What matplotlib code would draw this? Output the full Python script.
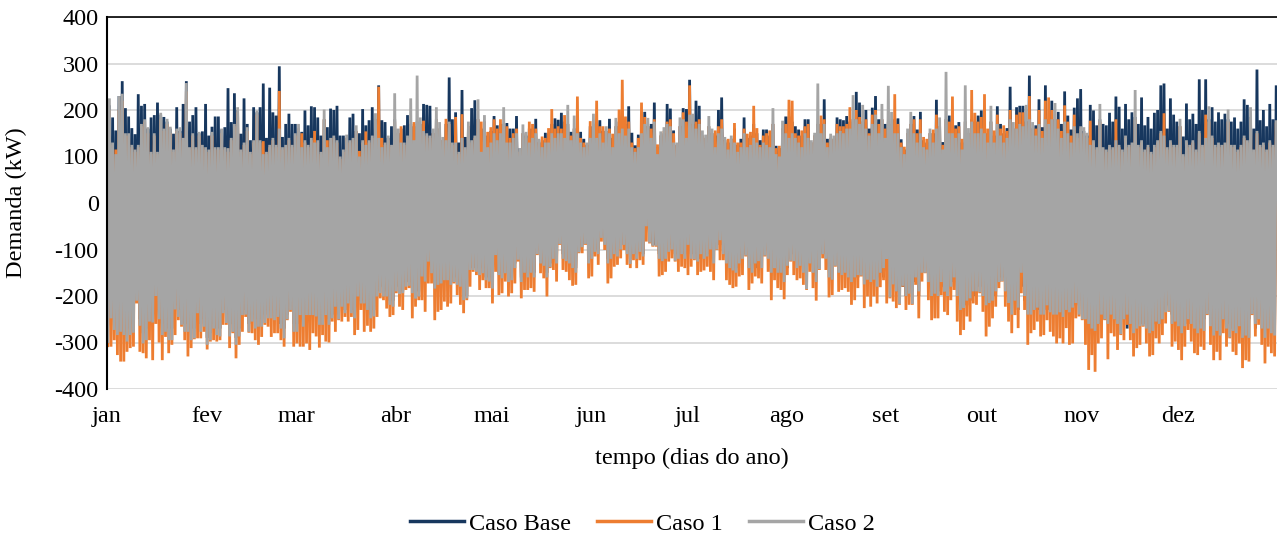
import numpy as np
import matplotlib
matplotlib.use("Agg")
import matplotlib.pyplot as plt

plt.rcParams['font.family'] = ['Liberation Serif', 'DejaVu Serif']
plt.rcParams['axes.unicode_minus'] = False

# daily maximum / minimum demand (kW), one value per day
base_max = [
    210,184,156,230,262,204,186,161,148,234,209,213,160,184,189,216,190,185,175,160,
    149,206,155,213,262,175,189,206,150,154,213,145,164,186,186,158,163,247,174,236,
    200,149,225,170,135,206,195,206,257,140,248,195,188,294,142,170,192,170,170,
    160,153,199,167,208,206,184,145,180,163,203,200,209,145,145,140,184,192,155,150,
    202,167,178,206,180,253,178,174,140,165,180,150,160,167,189,170,165,175,170,213,
    211,209,150,180,160,135,170,270,180,195,130,243,142,165,204,221,180,160,175,145,155,
    187,167,170,170,172,160,160,187,117,150,145,160,160,181,130,135,151,150,170,182,
    179,194,175,170,153,160,170,153,138,125,165,170,175,178,155,155,181,140,165,175,
    180,170,208,151,124,147,170,196,165,170,216,120,145,150,213,203,156,125,165,204,
    202,265,170,220,209,145,140,165,150,145,200,227,135,130,138,160,125,138,184,140,
    145,170,150,135,158,158,145,170,123,118,160,186,186,175,165,158,145,180,180,130,
    145,170,170,223,138,140,138,184,180,178,187,175,180,239,216,175,200,160,205,230,180,
    180,170,175,170,180,182,137,115,150,170,187,158,196,135,130,150,150,222,165,131,
    180,188,175,167,174,130,175,150,180,175,188,199,175,150,175,145,208,170,150,161,
    250,160,206,209,209,175,274,160,167,223,163,253,180,220,180,196,170,240,188,158,205,
    225,245,155,145,211,199,167,180,170,167,194,175,229,207,160,213,180,195,185,170,
    227,167,185,160,194,200,253,257,160,225,190,175,165,143,214,180,192,170,266,200,
    266,180,206,175,195,180,192,180,175,184,160,175,223,211,185,160,287,178,200,165,
    213,180,250,
]
base_min = [
    -260,-230,-250,-260,-260,-260,-270,-260,-260,-200,-250,-280,-270,-240,-240,-190,
    -230,-260,-260,-270,-270,-220,-230,-250,-260,-260,-270,-270,-220,-260,-250,
    -290,-280,-260,-270,-270,-230,-240,-270,-260,-290,-270,-230,-230,-260,-240,-250,
    -250,-250,-240,-230,-230,-240,-230,-260,-270,-240,-220,-260,
    -260,-230,-250,-230,-230,-230,-230,-250,-250,-230,-250,-240,-210,-240,-210,-230,
    -210,-230,-240,-190,-210,-210,-220,-240,-230,-190,-180,-190,-190,-210,-210,
    -180,-190,-190,-170,-170,-180,-190,-190,-150,-160,-120,-140,-170,-170,-160,-160,
    -160,-170,-160,-170,-170,-200,-200,-140,-140,-140,-150,-140,-160,-160,
    -170,-110,-150,-150,-140,-160,-160,-130,-110,-160,-140,-150,-140,-150,-100,-120,
    -130,-150,-130,-110,-120,-80,-110,-120,-120,-130,-140,-100,-90,-80,-120,
    -110,-100,-100,-70,-80,-120,-110,-100,-110,-80,-90,-100,-120,-100,-110,-100,
    -110,-40,-80,-90,-90,-110,-120,-110,-100,-90,-110,-110,-100,-110,
    -80,-110,-110,-110,-120,-100,-110,-100,-90,-90,-90,-70,-100,-120,-130,-140,
    -120,-120,-110,-100,-130,-140,-120,-110,-100,-100,-110,-130,-130,-130,-130,
    -140,-120,-110,-110,-120,-130,-140,-130,-120,-140,-130,-110,-110,-130,-130,-130,
    -150,-130,-140,-140,-140,-150,-160,-150,-140,-140,-160,-150,-160,-150,-160,
    -140,-130,-110,-190,-160,-180,-200,-170,-190,-170,-200,-150,-140,-140,-140,-160,
    -190,-180,-190,-160,-180,-170,-170,-150,-190,-220,-210,-200,-190,-180,
    -180,-180,-190,-200,-200,-170,-160,-160,-160,-180,-200,-230,-180,-210,-140,-190,
    -230,-230,-220,-210,-230,-230,-210,-220,-230,-230,-220,-230,-220,-220,-210,
    -200,-230,-240,-240,-250,-260,-260,-250,-230,-240,-250,-230,-240,-250,-270,-240,
    -230,-250,-260,-260,-250,-240,-250,-260,-260,-250,-230,-220,-240,-220,
    -220,-250,-250,-260,-240,-230,-250,-260,-250,-230,-270,-260,-270,-230,-250,-270,
    -260,-270,-240,-260,-260,-270,-250,-230,-270,-250,-230,-250,-240,-260,-270,
]
c1_max = [
    200,125,115,200,220,145,145,120,110,120,165,175,150,105,145,105,180,155,170,150,
    110,155,150,135,240,115,145,115,145,120,115,110,145,115,115,150,115,110,135,165,
    195,110,125,155,105,130,190,130,133,105,120,135,120,241,115,120,135,120,145,
    160,150,130,120,135,155,130,105,180,135,135,140,130,95,110,140,130,135,155,112,
    130,154,130,140,180,250,140,125,135,120,175,150,165,125,140,170,174,170,170,177,
    145,140,150,180,160,135,181,170,125,185,105,191,115,165,130,140,180,175,175,153,163,
    180,160,180,170,165,140,150,160,110,150,140,175,170,160,130,143,140,161,202,160,
    165,160,189,170,145,160,229,140,130,125,176,170,220,165,165,155,160,149,165,201,
    265,186,175,130,118,140,216,185,165,160,180,126,145,155,175,180,150,125,165,195,
    175,253,170,175,180,145,140,165,150,156,165,180,135,138,138,172,130,130,160,149,
    153,209,161,125,145,150,156,170,118,123,160,170,222,220,150,145,156,165,170,130,
    145,170,188,180,130,140,138,170,165,165,170,206,180,200,185,175,180,150,190,200,170,
    180,160,175,170,234,170,130,121,150,170,180,150,180,142,138,150,158,190,165,125,
    180,175,229,160,165,138,175,150,243,194,175,185,234,160,175,156,190,160,167,155,
    200,160,190,195,195,175,230,160,160,200,155,220,227,200,180,180,155,210,175,145,190,
    140,160,150,140,177,130,115,175,115,110,120,115,180,120,110,140,120,125,180,120,
    130,110,120,105,120,130,150,193,115,130,120,120,165,100,130,120,130,110,150,120,
    190,175,140,120,125,120,125,175,120,120,110,120,140,130,180,110,150,120,125,110,
    130,120,170,
]
c1_min = [
    -307,-309,-295,-327,-341,-341,-320,-312,-309,-216,-320,-323,-334,-295,-338,-260,
    -300,-338,-288,-323,-305,-284,-252,-266,-295,-330,-312,-293,-291,-291,
    -277,-315,-298,-295,-298,-295,-262,-262,-312,-280,-334,-305,-277,-245,-279,-280,
    -295,-305,-288,-262,-266,-288,-280,-280,-295,-309,-252,-234,-309,
    -302,-309,-309,-302,-316,-280,-287,-311,-284,-298,-300,-255,-277,-252,-255,-245,
    -255,-245,-284,-273,-230,-277,-264,-277,-270,-245,-205,-209,-227,-245,
    -241,-194,-223,-230,-187,-183,-248,-223,-209,-209,-234,-173,-173,-252,-234,-230,
    -212,-223,-216,-173,-198,-219,-237,-209,-180,-148,-155,-187,-166,-183,-183,
    -216,-148,-198,-194,-169,-201,-194,-173,-126,-205,-187,-187,-183,-191,-112,-151,
    -162,-201,-140,-144,-169,-90,-144,-148,-166,-178,-176,-108,-108,-90,
    -162,-158,-115,-133,-83,-101,-173,-162,-137,-133,-119,-101,-133,-140,-123,-140,
    -123,-133,-83,-87,-94,-94,-158,-155,-148,-126,-119,-126,-148,-137,
    -140,-155,-137,-123,-155,-148,-145,-137,-148,-166,-101,-123,-123,-166,-176,-183,
    -180,-158,-155,-115,-187,-173,-158,-162,-173,-115,-148,-209,-166,-183,
    -187,-207,-155,-126,-155,-166,-162,-176,-187,-148,-183,-210,-144,-119,-144,-203,
    -198,-137,-191,-187,-183,-191,-219,-209,-183,-158,-226,-201,-223,-201,-216,
    -181,-166,-216,-205,-212,-226,-219,-180,-230,-219,-219,-176,-248,-169,-151,-209,
    -252,-248,-248,-198,-234,-241,-209,-187,-255,-284,-273,-244,-255,-216,
    -219,-194,-234,-287,-266,-248,-223,-183,-169,-223,-255,-280,-241,-269,-194,-230,
    -305,-280,-273,-255,-287,-284,-252,-277,-287,-302,-291,-302,-269,-305,-302,
    -248,-244,-252,-305,-359,-327,-363,-302,-291,-252,-336,-280,-287,-316,-284,-295,
    -262,-295,-330,-312,-305,-266,-302,-330,-327,-291,-302,-284,-259,-234,
    -309,-298,-316,-338,-309,-273,-298,-323,-327,-309,-316,-241,-305,-338,-320,-338,
    -280,-309,-291,-320,-327,-302,-355,-338,-341,-241,-287,-262,-305,-345,-309,-323,-330,
]
c2_max = [
    225,130,105,230,235,150,150,125,115,125,170,180,163,110,150,110,194,160,181,164,
    115,160,163,140,258,120,150,120,153,125,120,115,153,120,120,160,120,118,140,170,
    206,115,130,163,110,135,199,135,105,110,125,140,125,160,120,125,140,125,150,
    170,120,135,125,140,130,135,110,201,120,140,145,135,100,115,147,135,140,167,100,
    135,125,135,145,193,140,120,130,145,125,236,160,130,130,145,225,135,274,184,155,
    150,145,160,206,174,142,135,175,130,130,110,140,120,175,135,145,223,110,189,120,130,
    150,135,150,206,130,130,140,150,117,169,153,130,140,150,138,120,130,130,150,140,
    150,150,140,211,135,188,150,130,120,130,140,192,140,150,130,165,150,120,183,150,
    160,145,160,120,110,120,150,170,183,140,175,105,154,163,170,165,130,130,184,180,
    140,190,192,160,170,156,147,187,160,120,150,160,142,115,145,130,110,120,150,120,
    125,140,130,120,130,125,120,204,105,100,177,150,140,150,140,130,120,150,140,135,
    151,257,150,170,120,149,145,150,155,150,160,160,232,180,170,211,160,145,170,190,150,
    213,140,252,196,150,150,120,105,160,196,150,130,150,120,115,160,130,160,184,115,
    282,150,150,140,150,115,253,161,175,150,150,160,150,130,209,130,170,145,130,140,
    180,174,160,170,165,211,180,174,145,170,140,180,170,180,215,160,140,175,150,130,165,
    150,165,163,151,125,135,120,213,120,115,125,120,135,125,115,145,125,130,243,125,
    135,115,125,110,125,135,155,145,120,135,125,125,181,105,135,125,135,115,155,125,
    140,208,145,125,130,125,130,201,125,125,115,125,145,135,206,115,155,125,130,115,
    135,125,175,
]
c2_min = [
    -298,-248,-273,-284,-277,-284,-298,-284,-279,-210,-264,-302,-295,-255,-257,-200,
    -250,-284,-277,-295,-295,-229,-245,-262,-277,-277,-295,-291,-237,-277,
    -266,-305,-295,-270,-284,-287,-237,-258,-287,-277,-305,-287,-241,-240,-277,-255,
    -270,-266,-266,-258,-248,-248,-252,-245,-270,-291,-250,-230,-277,
    -277,-241,-266,-241,-241,-241,-244,-262,-262,-241,-262,-248,-223,-250,-223,-237,
    -216,-237,-248,-201,-216,-216,-230,-248,-244,-201,-194,-201,-201,-219,
    -223,-190,-196,-194,-180,-178,-194,-205,-201,-158,-169,-126,-151,-184,-176,-173,
    -166,-166,-176,-170,-176,-180,-209,-205,-144,-144,-148,-155,-151,-166,-169,
    -184,-112,-155,-162,-151,-170,-166,-140,-122,-170,-150,-160,-150,-160,-110,-130,
    -135,-160,-138,-120,-130,-88,-120,-125,-130,-140,-150,-106,-95,-88,
    -130,-120,-105,-110,-75,-90,-130,-120,-110,-115,-100,-90,-110,-131,-110,-120,
    -105,-115,-50,-85,-92,-92,-120,-125,-120,-105,-100,-124,-120,-110,
    -120,-90,-120,-121,-126,-110,-120,-115,-100,-130,-100,-80,-110,-130,-140,-145,
    -150,-130,-120,-113,-140,-150,-130,-125,-140,-113,-120,-150,-140,-150,
    -150,-170,-135,-124,-125,-140,-135,-150,-185,-130,-150,-170,-142,-110,-120,-160,
    -165,-135,-150,-155,-150,-160,-170,-160,-155,-156,-175,-165,-170,-165,-180,
    -150,-140,-120,-203,-175,-190,-217,-178,-200,-195,-217,-160,-190,-150,-150,-170,
    -200,-195,-200,-170,-190,-200,-180,-160,-200,-230,-225,-210,-205,-190,
    -190,-192,-200,-220,-215,-210,-190,-170,-168,-190,-215,-240,-210,-225,-150,-200,
    -240,-240,-230,-225,-240,-240,-220,-235,-240,-240,-235,-245,-230,-235,-225,
    -215,-240,-250,-250,-260,-270,-275,-260,-240,-250,-260,-240,-250,-260,-282,-250,
    -240,-260,-280,-270,-265,-264,-270,-280,-275,-255,-260,-250,-235,-232,
    -260,-255,-265,-280,-265,-250,-260,-270,-280,-270,-275,-239,-265,-285,-275,-285,
    -250,-270,-289,-275,-280,-265,-290,-285,-290,-239,-260,-250,-270,-290,-270,-280,-285,
]

months = ['jan', 'fev', 'mar', 'abr', 'mai', 'jun', 'jul', 'ago', 'set', 'out', 'nov', 'dez']
month_start = [0, 31, 59, 90, 120, 151, 181, 212, 243, 273, 304, 334]

series = [
    ('Caso Base', base_min, base_max, '#17375E'),
    ('Caso 1', c1_min, c1_max, '#ED7D31'),
    ('Caso 2', c2_min, c2_max, '#A5A5A5'),
]

fig = plt.figure(figsize=(12.77, 5.35), dpi=100)
ax = fig.add_axes([107 / 1277, 1 - 389 / 535, 1170 / 1277, 372 / 535])

days = np.arange(365)
for name, lo, hi, col in series:
    assert len(lo) == 365 and len(hi) == 365, name
    x = np.column_stack([days + 0.25, days + 0.75]).ravel()
    y = np.column_stack([lo, hi]).ravel()
    ax.plot(x, y, color=col, lw=2.0, label=name, solid_joinstyle='bevel')

ax.set_xlim(0, 365)
ax.set_ylim(-400, 400)
ax.set_yticks(range(-400, 401, 100))
ax.set_xticks(month_start)
ax.set_xticklabels(months)
ax.tick_params(axis='both', length=0, labelsize=17.5)
ax.tick_params(axis='x', pad=12)
ax.tick_params(axis='y', pad=6)

ax.grid(axis='y', color='#D9D9D9', lw=1.3)
ax.set_axisbelow(True)
for s in ['right', 'bottom']:
    ax.spines[s].set_visible(False)
ax.spines['left'].set_color('black')
ax.spines['left'].set_linewidth(1.5)
ax.spines['top'].set_color('black')
ax.spines['top'].set_linewidth(1.2)

ax.set_ylabel('Demanda (kW)', fontsize=17.5)
ax.yaxis.set_label_coords(-0.068, 0.5)
ax.set_xlabel('tempo (dias do ano)', fontsize=17.5)
ax.xaxis.label.set_va('center')
ax.xaxis.set_label_coords(0.5, -0.1855)

leg = fig.legend(loc='center', bbox_to_anchor=(0.503, 0.021), ncol=3, frameon=False,
                 fontsize=17.5, handlelength=2.2, handletextpad=0.2, columnspacing=1.1)
for h in leg.get_lines():
    h.set_linewidth(2.5)

fig.savefig('out.png', dpi=100)
